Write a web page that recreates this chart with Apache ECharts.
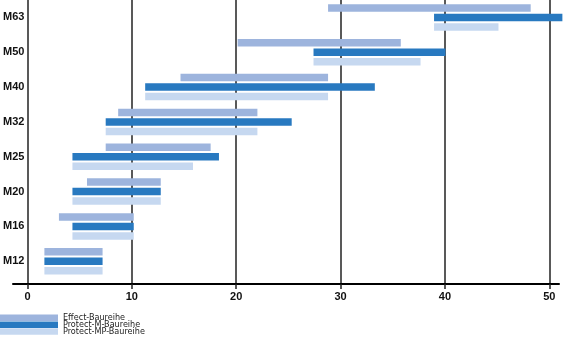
<!DOCTYPE html>
<html>
<head>
<meta charset="utf-8">
<script src="https://cdn.jsdelivr.net/npm/echarts@6/dist/echarts.min.js"></script>
<style>html,body{margin:0;padding:0;background:#fff}#c{width:564px;height:340px}</style>
</head>
<body>
<div id="c"></div>
<script>
const categories = ['M63','M50','M40','M32','M25','M20','M16','M12'];
const effectStart = [28.7, 20.0, 14.5, 8.5, 7.3, 5.5, 2.8, 1.4];
const effectEnd = [48.2, 35.7, 28.7, 21.9, 17.4, 12.6, 10.0, 7.0];
const protectMStart = [38.9, 27.3, 11.1, 7.3, 4.1, 4.1, 4.1, 1.4];
const protectMEnd = [51.25, 40.0, 33.2, 25.2, 18.2, 12.6, 10.0, 7.0];
const protectMPStart = [38.9, 27.3, 11.1, 7.3, 4.1, 4.1, 4.1, 1.4];
const protectMPEnd = [45.1, 37.6, 28.7, 21.9, 15.7, 12.6, 10.0, 7.0];
const xTicks = [0, 10, 20, 30, 40, 50];
const seriesNames = ['Effect-Baureihe', 'Protect-M-Baureihe', 'Protect-MP-Baureihe'];
const colors = ['#9db4dd', '#2879c0', '#c6d8f0'];

const starts = [effectStart, protectMStart, protectMPStart];
const ends = [effectEnd, protectMEnd, protectMPEnd];

const series = [];
seriesNames.forEach((name, i) => {
  series.push({
    type: 'bar', name: '_base' + i, stack: 's' + i, xAxisIndex: 0, yAxisIndex: 0,
    data: starts[i], itemStyle: { color: 'transparent' }, silent: true,
    barWidth: 7.5, barGap: '27%'
  });
  series.push({
    type: 'bar', name: name, stack: 's' + i, xAxisIndex: 0, yAxisIndex: 0,
    data: ends[i].map((e, k) => +(e - starts[i][k]).toFixed(3)),
    itemStyle: { color: colors[i] }, barWidth: 7.5, barGap: '27%'
  });
});

const legendTops = [313.3, 320.3, 327];
const legends = seriesNames.map((name, i) => ({
  data: [name], orient: 'vertical', left: 0, top: legendTops[i], padding: 0,
  itemWidth: 58, itemHeight: 6.5, icon: 'rect',
  textStyle: { fontSize: 9, color: '#222', fontFamily: "'DejaVu Sans Condensed', 'Liberation Sans Narrow', sans-serif" }
}));

const chart = echarts.init(document.getElementById('c'), null, { renderer: 'canvas' });
chart.setOption({
  animation: false,
  color: colors,
  grid: [
    { left: 13, top: -3.75, width: 549.9, height: 282.4 },
    { left: 13, top: 0, width: 546, height: 284 }
  ],
  xAxis: [
    { type: 'value', gridIndex: 0, min: -1.39, max: 51.3, show: false },
    {
      type: 'value', gridIndex: 1, min: -1.39, max: 50.93,
      axisLine: { show: true, lineStyle: { color: '#000', width: 2 } },
      axisTick: { show: true, customValues: xTicks, length: 5, lineStyle: { color: '#222', width: 1.5 } },
      splitLine: { show: true, lineStyle: { color: '#222', width: 1.5 } },
      axisLabel: { customValues: xTicks, margin: 7, color: '#111', fontWeight: 'bold', fontSize: 11, fontFamily: 'Liberation Sans' }
    }
  ],
  yAxis: [
    {
      type: 'category', gridIndex: 0, data: categories, inverse: true,
      axisLine: { show: false }, axisTick: { show: false }, splitLine: { show: false },
      axisLabel: { margin: -9, color: '#111', fontWeight: 'bold', fontSize: 11, fontFamily: 'Liberation Sans' }
    },
    { type: 'value', gridIndex: 1, min: 0, max: 1, show: false }
  ],
  legend: legends,
  series: series
});
</script>
</body>
</html>
